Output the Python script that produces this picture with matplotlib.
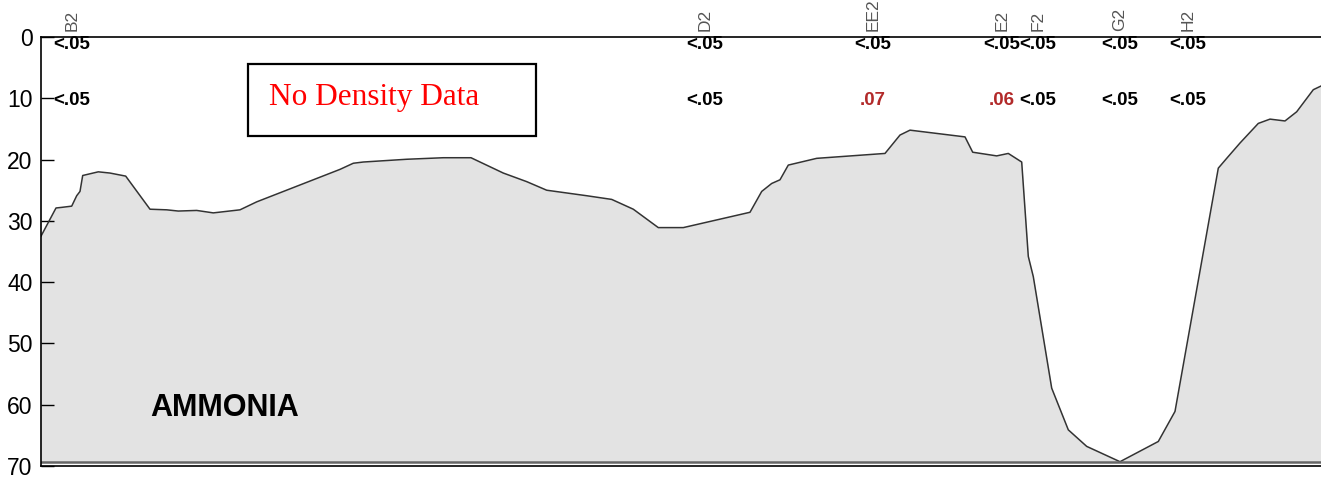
import matplotlib
matplotlib.use('Agg')
import matplotlib.pyplot as plt
from matplotlib.patches import Rectangle
plt.rcParams['font.family'] = ['Liberation Sans', 'DejaVu Sans']

# distance along transect (arbitrary units) and bottom depth
dist = [0, 15, 20.7, 30.7, 35.7, 39, 41.7, 57.3, 69, 84.7, 109, 125.7, 137.3, 155.7,
        172.3, 199, 215.7, 299, 312.3, 322.3, 365.7, 402.3, 430, 462.3, 485.7, 505.7,
        545.7, 570.7, 592.3, 617.3, 642.3, 709, 720.7, 730.7, 739, 747.3, 775.7, 844,
        859, 869, 924, 931.7, 955.7, 967.3, 980.7, 987.3, 992.3, 1010.7, 1027.3, 1045.7,
        1079, 1117.3, 1134, 1177.3, 1185.7, 1199, 1217.3, 1229, 1244, 1255.7, 1272.3, 1280]
depth = [32.5, 27.9, 27.8, 27.6, 25.9, 25.2, 22.6, 22.0, 22.2, 22.7, 28.1, 28.2, 28.4, 28.3,
         28.7, 28.2, 26.9, 21.6, 20.6, 20.4, 19.95, 19.7, 19.7, 22.2, 23.6, 25.0,
         25.9, 26.5, 28.1, 31.1, 31.1, 28.6, 25.2, 23.9, 23.3, 20.9, 19.8, 19.0,
         16.0, 15.2, 16.3, 18.8, 19.4, 19.0, 20.4, 35.8, 39.1, 57.3, 64.1, 66.8,
         69.3, 66.0, 61.1, 21.4, 19.8, 17.3, 14.1, 13.4, 13.7, 12.2, 8.6, 8.0]
max_depth = 69.3

stations = ['B2', 'D2', 'EE2', 'E2', 'F2', 'G2', 'H2']
station_x = [31, 664, 832, 961, 997, 1079, 1147]
surface_vals = ['<.05', '<.05', '<.05', '<.05', '<.05', '<.05', '<.05']
depth10_vals = ['<.05', '<.05', '.07', '.06', '<.05', '<.05', '<.05']

fig = plt.figure(figsize=(13.21, 4.79), dpi=100)
ax = fig.add_axes([41/1321, 1-466/479, 1280/1321, 429/479])

ax.fill_between(dist, depth, max_depth, color='#e3e3e3', lw=0)
ax.plot(dist, depth, color='#333333', lw=1.1)
ax.axhline(max_depth, color='#666666', lw=1.8)

ax.set_xlim(0, 1280)
ax.set_ylim(70, 0)
ax.set_yticks(range(0, 80, 10))
ax.set_xticks([])
ax.tick_params(axis='y', direction='in', length=9, width=1, labelsize=16.5, pad=6)
ax.spines['right'].set_visible(False)
for s in ['left', 'top', 'bottom']:
    ax.spines[s].set_linewidth(1.2)

for i, st in enumerate(stations):
    x = station_x[i]
    ax.text(x, -1.0, st, rotation=90, ha='center', va='bottom', fontsize=12.5,
            color='#555555', clip_on=False)
    ax.text(x, 2.0, surface_vals[i], ha='center', va='baseline', fontsize=13.5,
            fontweight='bold', color='black')
    c = '#b22a2a' if depth10_vals[i][0] != '<' else 'black'
    ax.text(x, 11.1, depth10_vals[i], ha='center', va='baseline', fontsize=13.5,
            fontweight='bold', color=c)

ax.add_patch(Rectangle((207.3, 4.4), 287.7, 11.8, fill=False, ec='black', lw=1.6))
ax.text(228, 11.1, 'No Density Data', fontsize=22.5, color='red',
        family='Liberation Serif', va='baseline')
ax.text(109, 61.8, 'AMMONIA', fontsize=22, fontweight='bold', va='baseline')

plt.savefig('out.png', dpi=100)
